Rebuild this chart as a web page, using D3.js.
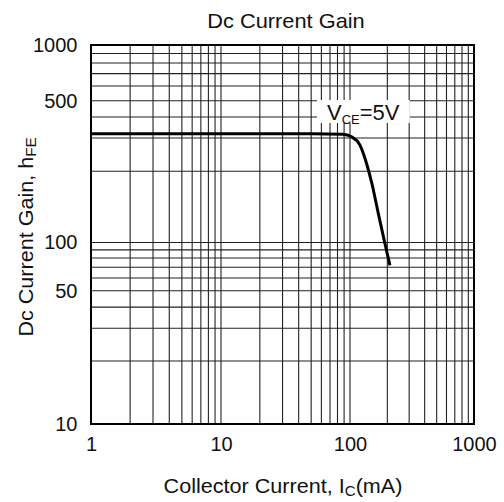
<!DOCTYPE html>
<html>
<head>
<meta charset="utf-8">
<script src="https://cdn.jsdelivr.net/npm/d3@7"></script>
<style>
  html, body { margin: 0; padding: 0; background: #fff; }
  svg { display: block; }
  text { font-family: "Liberation Sans", Arial, Helvetica, sans-serif; fill: #111; }
</style>
</head>
<body>
<svg id="chart" width="504" height="502"></svg>
<script>
// ---- data ----
const xTickValues = [1, 10, 100, 1000];
const yTickValues = [10, 50, 100, 500, 1000];
const collectorCurrent = [1, 10, 50, 88, 103, 120, 136, 150, 169, 191, 210]; // mA
const hFE = [318, 318, 318, 316, 305, 276, 220, 178, 133, 99, 72];
const curveLabel = "V";
const curveLabelSub = "CE";
const curveLabelTail = "=5V";
const titleText = "Dc Current Gain";

// ---- layout ----
const svg = d3.select("#chart");
const pLeft = 91, pRight = 474, pTop = 45, pBottom = 424;

// log scales (calibrated piecewise to the printed decade grid)
const x = d3.scaleLog()
  .domain([1, 10, 100, 1000])
  .range([pLeft, 221, 350, pRight]);
const y = d3.scaleLog()
  .domain([10, 20, 30, 50, 100, 200, 300, 500, 1000])
  .range([pBottom, 361, 328.3, 290.7, 242.5, 171.3, 138, 100.7, pTop]);

// grid
const gridX = d3.scaleLog().domain([1, 1000]).ticks().filter(d => d > 1 && d < 1000);
const gridY = d3.scaleLog().domain([10, 1000]).ticks().filter(d => d > 10 && d < 1000);

const grid = svg.append("g").attr("stroke", "#222").attr("stroke-width", 1.1);
grid.selectAll("line.vx").data(gridX).join("line")
  .attr("x1", d => x(d)).attr("x2", d => x(d))
  .attr("y1", pTop).attr("y2", pBottom);
grid.selectAll("line.hy").data(gridY).join("line")
  .attr("y1", d => y(d)).attr("y2", d => y(d))
  .attr("x1", pLeft).attr("x2", pRight);

// curve
const line = d3.line()
  .x((d, i) => x(collectorCurrent[i]))
  .y(d => y(d))
  .curve(d3.curveMonotoneX);
svg.append("path")
  .datum(hFE)
  .attr("d", line)
  .attr("fill", "none")
  .attr("stroke", "#000")
  .attr("stroke-width", 3);

// curve label with white box
const lbl = svg.append("g");
const lblBox = lbl.append("rect").attr("fill", "#fff");
const lblText = lbl.append("text")
  .attr("x", 327).attr("y", 120)
  .attr("font-size", 22);
lblText.append("tspan").text(curveLabel);
lblText.append("tspan").text(curveLabelSub).attr("font-size", 13).attr("dy", 4);
lblText.append("tspan").text(curveLabelTail).attr("dy", -4);
const bb = lblText.node().getBBox();
lblBox.attr("x", bb.x - 10).attr("y", pTop + 55)
  .attr("width", bb.width + 20).attr("height", 23);

// border
svg.append("rect")
  .attr("x", pLeft).attr("y", pTop)
  .attr("width", pRight - pLeft).attr("height", pBottom - pTop)
  .attr("fill", "none").attr("stroke", "#000").attr("stroke-width", 2);

// axes
const xAxis = svg.append("g")
  .attr("transform", `translate(0,${pBottom})`)
  .call(d3.axisBottom(x).tickValues(xTickValues).tickFormat(d3.format("d")).tickSize(0).tickPadding(13));
const yAxis = svg.append("g")
  .attr("transform", `translate(${pLeft},0)`)
  .call(d3.axisLeft(y).tickValues(yTickValues).tickFormat(d3.format("d")).tickSize(0).tickPadding(13.5));
[xAxis, yAxis].forEach(g => {
  g.select(".domain").remove();
  g.attr("font-family", null).attr("font-size", null);
  g.selectAll("text").attr("font-size", 20).attr("fill", "#111");
});

// title
svg.append("text")
  .attr("transform", "translate(286,27.5) scale(1.09,1)")
  .attr("text-anchor", "middle")
  .attr("font-size", 20)
  .text(titleText);

// x label
const xl = svg.append("text")
  .attr("transform", "translate(283,492.5) scale(1.08,1)")
  .attr("text-anchor", "middle")
  .attr("font-size", 20);
xl.append("tspan").text("Collector Current, I");
xl.append("tspan").text("C").attr("font-size", 14).attr("dy", 3);
xl.append("tspan").text("(mA)").attr("dy", -3);

// y label
const yl = svg.append("text")
  .attr("transform", "translate(33,237) rotate(-90) scale(1.08,1)")
  .attr("text-anchor", "middle")
  .attr("font-size", 20);
yl.append("tspan").text("Dc Current Gain, h");
yl.append("tspan").text("FE").attr("font-size", 14).attr("dy", 3);
</script>
</body>
</html>
